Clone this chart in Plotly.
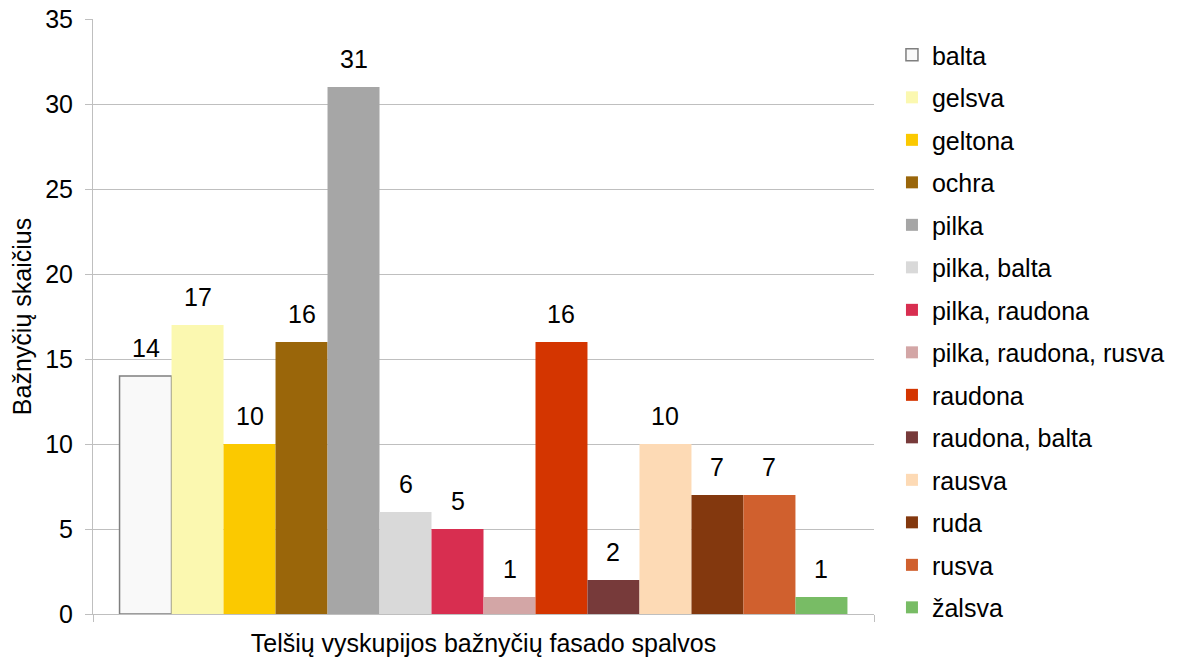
import plotly.graph_objects as go

category = ["Telšių vyskupijos bažnyčių fasado spalvos"]

colour_names = [
    "balta", "gelsva", "geltona", "ochra", "pilka", "pilka, balta",
    "pilka, raudona", "pilka, raudona, rusva", "raudona", "raudona, balta",
    "rausva", "ruda", "rusva", "žalsva",
]
church_counts = [14, 17, 10, 16, 31, 6, 5, 1, 16, 2, 10, 7, 7, 1]
bar_colours = [
    "#F9F9F9", "#FBF8B0", "#FBC900", "#9A660A", "#A6A6A6", "#D9D9D9",
    "#D82E50", "#D3A6A6", "#D43500", "#773A3A", "#FDDAB5", "#83380E",
    "#D0602E", "#78BC65",
]

font = "Liberation Sans, Arial, sans-serif"
fsize = 25
grid = "#BFBFBF"
gap = 0.068

fig = go.Figure()

# bars, one trace per colour so each gets a legend entry
for name, count, colour in zip(colour_names, church_counts, bar_colours):
    outline = "#7F7F7F" if name == "balta" else colour
    fig.add_trace(go.Bar(
        x=category,
        y=[count],
        name=name,
        legendgroup=name,
        marker=dict(color=colour, line=dict(color=outline, width=1.5 if name == "balta" else 0)),
        hoverinfo="name+y",
    ))

# value labels above each bar: bar i of n sits in slot i of the grouped category
n = len(church_counts)
slot = (1 - gap) / n
for i, count in enumerate(church_counts):
    fig.add_annotation(
        x=-(1 - gap) / 2 + (i + 0.5) * slot,
        y=count,
        xref="x",
        yref="y",
        text=str(count),
        showarrow=False,
        yanchor="bottom",
        yshift=12,
        font=dict(size=fsize, color="#000000", family=font),
    )

fig.update_layout(
    width=1182,
    height=660,
    margin=dict(l=93, r=308, t=19, b=46),
    paper_bgcolor="white",
    plot_bgcolor="white",
    barmode="group",
    bargap=gap,
    bargroupgap=0,
    font=dict(family=font, size=fsize, color="#000000"),
    showlegend=True,
    legend=dict(
        x=1.023, xanchor="left",
        y=0.978, yanchor="top",
        font=dict(size=fsize, family=font),
        tracegroupgap=7,
        itemwidth=30,
        bgcolor="rgba(0,0,0,0)",
    ),
    xaxis=dict(
        type="category",
        tickson="boundaries",
        showgrid=True,
        gridcolor=grid,
        gridwidth=1,
        ticks="outside",
        ticklen=7,
        tickcolor=grid,
        showline=True,
        linecolor=grid,
        linewidth=1,
        automargin=False,
        ticklabelstandoff=7,
        tickfont=dict(size=fsize, family=font),
    ),
    yaxis=dict(
        range=[0, 35],
        dtick=5,
        showgrid=True,
        gridcolor=grid,
        gridwidth=1,
        ticks="outside",
        ticklen=7,
        tickcolor=grid,
        showline=True,
        linecolor=grid,
        linewidth=1,
        zeroline=False,
        automargin=False,
        ticklabelstandoff=7,
        tickfont=dict(size=fsize, family=font),
        title=dict(text="Bažnyčių skaičius", font=dict(size=fsize, family=font), standoff=6),
    ),
)

# let the legend grow past the plot-area height instead of scrolling
try:
    fig.update_layout(legend_maxheight=660)
except ValueError:
    fig.update_layout(legend_tracegroupgap=6)

fig.write_html("out.html")
